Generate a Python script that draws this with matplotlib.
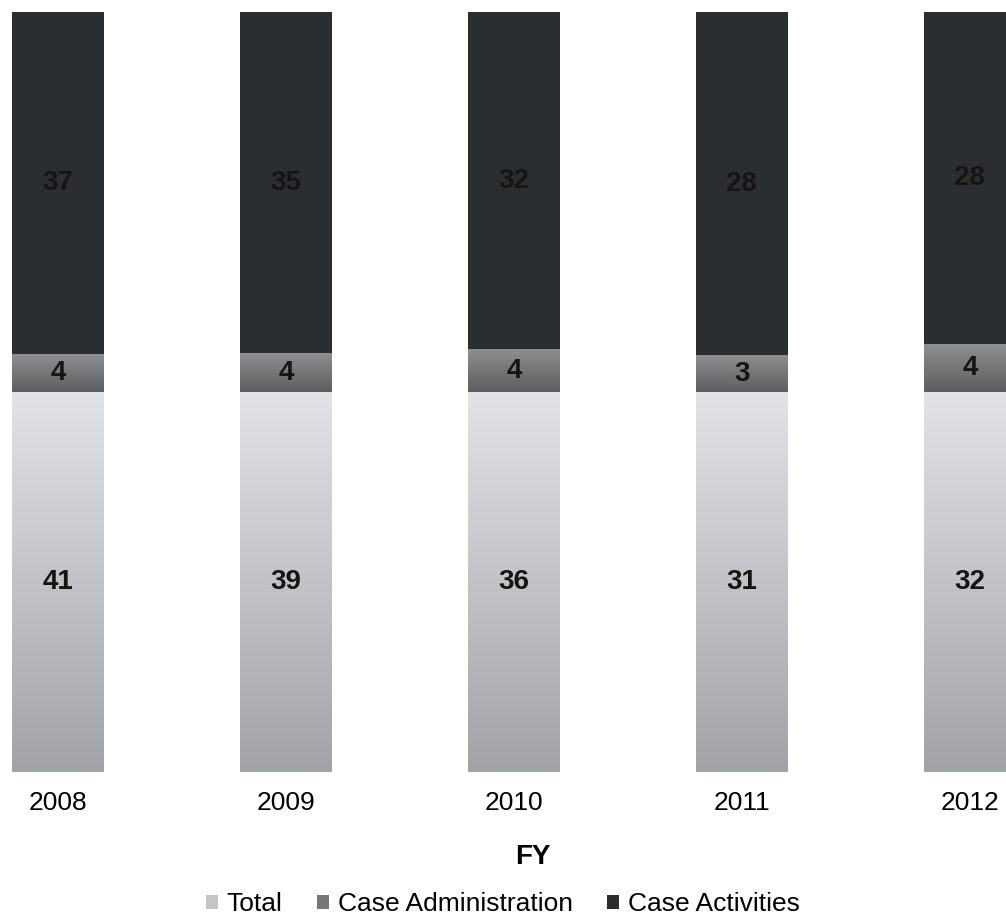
import matplotlib.pyplot as plt
import numpy as np
from matplotlib.colors import LinearSegmentedColormap

years = ["2008", "2009", "2010", "2011", "2012"]
total = [41, 39, 36, 31, 32]
case_admin = [4, 4, 4, 3, 4]
case_act = [37, 35, 32, 28, 28]

plt.rcParams["font.family"] = ["Liberation Sans", "DejaVu Sans"]

sums = np.array(total) + np.array(case_admin) + np.array(case_act)
p_total = np.array(total) / sums
p_admin = np.array(case_admin) / sums
p_act = np.array(case_act) / sums

fig = plt.figure(figsize=(10.06, 9.21), dpi=100)
ax = fig.add_axes([0, 149 / 921, 1, 760 / 921])

x = np.arange(len(years))
w = 0.40
b1 = ax.bar(x, p_total, w, color="#c4c5c8", label="Total")
b2 = ax.bar(x, p_admin, w, bottom=p_total, color="#767778", label="Case Administration")
b3 = ax.bar(x, p_act, w, bottom=p_total + p_admin, color="#2b2e30", label="Case Activities")

# vertical shading on the two lower series
light = LinearSegmentedColormap.from_list("light", ["#a2a3a6", "#e2e3e6"])
mid = LinearSegmentedColormap.from_list("mid", ["#5c5d5f", "#8e8f91"])
grad = np.linspace(0, 1, 256).reshape(-1, 1)
for bars, cmap in [(b1, light), (b2, mid)]:
    for r in bars:
        x0, y0 = r.get_x(), r.get_y()
        ax.imshow(grad, cmap=cmap, origin="lower", aspect="auto",
                  extent=[x0, x0 + r.get_width(), y0, y0 + r.get_height()],
                  zorder=r.get_zorder() + 0.1)

for bars, vals in [(b1, total), (b2, case_admin), (b3, case_act)]:
    for r, v in zip(bars, vals):
        ax.text(r.get_x() + r.get_width() / 2, r.get_y() + r.get_height() / 2,
                str(v), ha="center", va="center", fontsize=20,
                fontweight="bold", color="#151515", zorder=5)

ax.set_xlim(-58 / 228, (1006 - 58) / 228)
ax.set_ylim(0, 1)
ax.set_xticks(x)
ax.set_xticklabels(years, fontsize=19)
ax.tick_params(axis="x", length=0, pad=14)
ax.set_yticks([])
for s in ax.spines.values():
    s.set_visible(False)

fig.text(533 / 1006, 1 - 857 / 921, "FY", ha="center", va="center",
         fontsize=20, fontweight="bold")

fig.legend(handles=[b1, b2, b3], loc="center", bbox_to_anchor=(503 / 1006, 1 - 904 / 921),
           ncol=3, frameon=False, fontsize=19, handlelength=0.45, handleheight=0.45,
           handletextpad=0.35, columnspacing=1.3, borderpad=0)

fig.savefig("out.png", dpi=100, facecolor="white")
